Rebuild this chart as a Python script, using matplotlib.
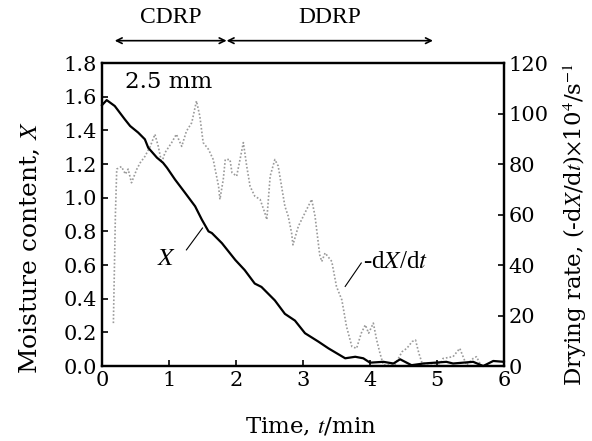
import numpy as np
from matplotlib import pyplot as plt

plt.rcParams['font.family'] = 'DejaVu Serif'
plt.rcParams['mathtext.fontset'] = 'stix'

#%%# data read off the picture #%%#
tX = [0.0, 0.07, 0.19, 0.34, 0.42, 0.54, 0.64, 0.69, 0.82, 0.91, 0.97, 1.09, 1.24,
      1.39, 1.49, 1.59, 1.64, 1.79, 1.99, 2.13, 2.28, 2.38, 2.58, 2.73, 2.88, 3.03,
      3.23, 3.38, 3.63, 3.78, 3.90, 4.0, 4.2, 4.35, 4.45, 4.62, 4.8, 5.14, 5.24,
      5.54, 5.69, 5.84, 6.0]
X = [1.55, 1.58, 1.545, 1.466, 1.426, 1.387, 1.347, 1.297, 1.238, 1.208, 1.178,
     1.108, 1.029, 0.949, 0.87, 0.80, 0.79, 0.73, 0.63, 0.57, 0.49, 0.47, 0.39,
     0.31, 0.27, 0.195, 0.145, 0.105, 0.046, 0.055, 0.046, 0.02, 0.025, 0.015,
     0.04, 0.005, 0.015, 0.025, 0.015, 0.025, 0.0, 0.03, 0.025]

tR = [0.17, 0.20, 0.22, 0.29, 0.35, 0.39, 0.44, 0.52, 0.57, 0.64, 0.72, 0.79, 0.84,
      0.89, 0.94, 1.04, 1.11, 1.19, 1.26, 1.34, 1.41, 1.46, 1.51, 1.59, 1.66, 1.74,
      1.76, 1.81, 1.84, 1.91, 1.94, 2.01, 2.06, 2.11, 2.16, 2.21, 2.28, 2.36, 2.43,
      2.46, 2.51, 2.58, 2.63, 2.68, 2.73, 2.78, 2.83, 2.85, 2.93, 3.03, 3.13, 3.18,
      3.25, 3.28, 3.33, 3.43, 3.50, 3.58, 3.65, 3.73, 3.80, 3.87, 3.93, 3.98, 4.05,
      4.10, 4.15, 4.2, 4.37, 4.48, 4.55, 4.63, 4.68, 4.73, 4.78, 5.05, 5.09, 5.24,
      5.34, 5.39, 5.44, 5.54, 5.59, 5.66, 6.0]
rate = [17, 60, 78, 79, 76, 78, 72.6, 78, 80.5, 83, 87, 91.8, 87, 80.5, 84.5, 88.5,
        91.8, 87, 93, 96.4, 105, 99, 88.5, 85.8, 81.8, 71.2, 66, 73.9, 81.8, 81.8,
        76.6, 75.2, 81.8, 88.5, 79.2, 71.2, 67.3, 66, 60.7, 58, 75.2, 81.8, 79.2,
        71.2, 63.3, 59.3, 52.7, 48, 55.3, 60.7, 66, 59.3, 44, 41.4, 44.8, 41.4, 31.5,
        26.2, 15.6, 7.7, 7.0, 13, 16.3, 13, 17, 10.3, 5, 0.4, 0.4, 5.7, 7, 9.7, 10.3,
        5, 1, 1, 3, 3.7, 7, 3.7, 0.4, 3, 3.7, 0, 0]

xticks = [0, 1, 2, 3, 4, 5, 6]
yticksL = [0.0, 0.2, 0.4, 0.6, 0.8, 1.0, 1.2, 1.4, 1.6, 1.8]
yticksR = [0, 20, 40, 60, 80, 100, 120]
periods = ['CDRP', 'DDRP']
periodEdges = [0.19, 1.86, 4.94]

#%%# figure #%%#
fig = plt.figure(figsize=(5.92, 4.41), dpi=100)
ax = fig.add_axes([0.1723, 0.170, 0.679, 0.687])
ax2 = ax.twinx()

ax2.plot(tR, rate, color='#9a9a9a', linestyle=(0, (1, 1.2)), linewidth=1.2, clip_on=False)
ax.plot(tX, X, color='black', linewidth=1.6, clip_on=False)
ax.set_zorder(ax2.get_zorder() + 1)
ax.patch.set_visible(False)

ax.set_xlim(0, 6)
ax.set_ylim(0, 1.8)
ax2.set_ylim(0, 120)
ax.set_xticks(xticks)
ax.set_yticks(yticksL)
ax.set_yticklabels([f'{v:.1f}' for v in yticksL])
ax2.set_yticks(yticksR)

fs = 15
ax.tick_params(direction='in', length=4, width=1.2, labelsize=fs, top=False, right=False)
ax2.tick_params(direction='in', length=4, width=1.2, labelsize=fs, pad=3)
for a in (ax, ax2):
    for s in a.spines.values():
        s.set_linewidth(1.6)

ax.set_xlabel('Time, $t$/min', fontsize=16.5, va='center')
ax.xaxis.set_label_coords(0.52, -0.202)
ax.set_ylabel('Moisture content, $X$', fontsize=18, va='center')
ax.yaxis.set_label_coords(-0.179, 0.39)
ax2.set_ylabel('Drying rate, (-d$X$/d$t$)$\\times$10$^4$/s$^{-1}$', fontsize=16.5,
               va='center', rotation=90)
ax2.yaxis.set_label_coords(1.177, 0.467)

# annotations
ax.text(0.34, 1.69, '2.5 mm', fontsize=16.5, va='center')
ax.text(0.97, 0.64, '$X$', fontsize=fs + 3, ha='center', va='center')
ax.plot([1.26, 1.50], [0.69, 0.82], color='black', linewidth=0.8)
ax.text(3.90, 0.62, '-d$X$/d$t$', fontsize=18, ha='left', va='center',
        family='Liberation Serif')
ax.plot([3.87, 3.63], [0.612, 0.473], color='black', linewidth=0.8)

# period arrows
for i, name in enumerate(periods):
    ax.annotate('', xy=(periodEdges[i], 1.933), xytext=(periodEdges[i + 1], 1.933),
                xycoords='data', annotation_clip=False,
                arrowprops=dict(arrowstyle='<->', color='black', lw=1.2,
                                shrinkA=0, shrinkB=0))
    ax.text((periodEdges[i] + periodEdges[i + 1]) / 2, 2.07, name, fontsize=17,
            ha='center', va='center', family='Liberation Serif')

fig.savefig('out.png', dpi=100)
